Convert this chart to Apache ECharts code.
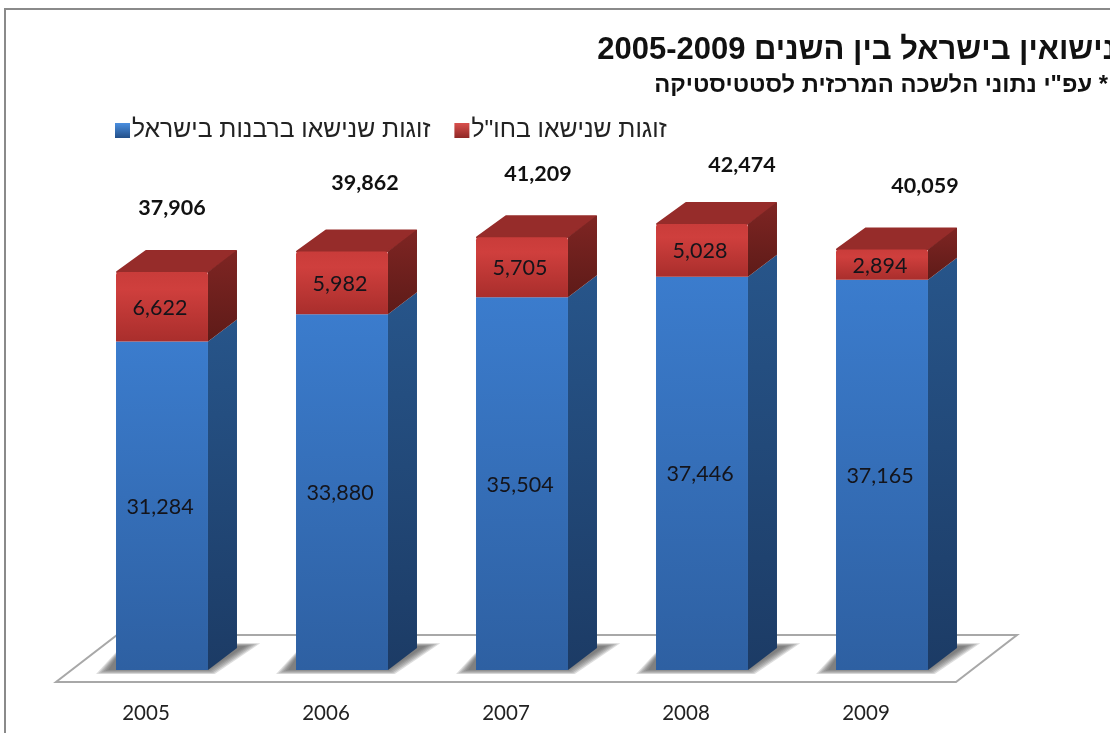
<!DOCTYPE html>
<html>
<head>
<meta charset="utf-8">
<title>נישואין בישראל</title>
<style>
  html, body { margin: 0; padding: 0; background: #fff; }
  #chart { width: 1110px; height: 733px; }
</style>
<script src="https://cdn.jsdelivr.net/npm/echarts@6/dist/echarts.min.js"></script>
</head>
<body>
<div id="chart" dir="rtl"></div>
<script>
const years = ["2005", "2006", "2007", "2008", "2009"];
const rabbinate = [31284, 33880, 35504, 37446, 37165];
const abroad = [6622, 5982, 5705, 5028, 2894];
const totals = [37906, 39862, 41209, 42474, 40059];

const rabbinateName = "זוגות שנישאו ברבנות בישראל";
const abroadName = 'זוגות שנישאו בחו"ל';

// the totals were placed by hand in the original, so each has its own nudge
const totalNudgeX = [10, 23, 16, 40, 43];
const totalNudgeY = [-64, -68, -63, -59, -63];

// 3d look: bars stand back from the axis line, floor goes further back
const floorDX = 61, floorDY = -47;
const barDX = 16, barDY = -12;
const sideDX = 29, sideDY = -22;
const barRatio = 0.511;

const fmt = (v) => v.toLocaleString("en-US");
const vert = (a, b) => new echarts.graphic.LinearGradient(0, 0, 0, 1, [
  { offset: 0, color: a }, { offset: 1, color: b },
]);

const renderFloor = (params, api) => {
  const g = params.coordSys;
  const b = g.y + g.height;
  return {
    type: "polygon",
    shape: { points: [
      [g.x, b], [g.x + g.width, b],
      [g.x + g.width + floorDX, b + floorDY], [g.x + floorDX, b + floorDY],
    ] },
    style: { fill: "#fff", stroke: "#a8a8a8", lineWidth: 2 },
  };
};

// soft shadow on the floor: stacked see-through polygons, each a bit bigger
const renderShadow = (params, api) => {
  const p = api.coord([api.value(0), 0]);
  const w = api.size([1, 0])[0] * barRatio;
  const x = p[0] + barDX - w / 2, y = p[1] + barDY;
  const layers = [0, 1, 2, 3, 4, 5].map((k) => {
    const e = k * 1.14;
    return {
      type: "polygon",
      shape: { points: [
        [x, y - 12 - e], [x - 8 - e * 2.1, y + e * 0.7], [x + w + e * 1.2, y + e * 0.7],
        [x + w + 38 + e * 2.5, y - 24 - e * 0.5], [x + w + 28, y - 24 - e * 0.5],
      ] },
      style: { fill: "rgba(85,85,85,0.2)" },
    };
  });
  return { type: "group", silent: true, children: layers };
};

const renderBar = (colors) => (params, api) => {
  const i = api.value(0);
  const lo = api.coord([i, api.value(1)]);
  const hi = api.coord([i, api.value(2)]);
  const w = api.size([1, 0])[0] * barRatio;
  const x = lo[0] + barDX - w / 2, r = x + w;
  const y0 = lo[1] + barDY, y1 = hi[1] + barDY;
  const kids = [
    {
      type: "polygon",
      shape: { points: [[r, y1], [r + sideDX, y1 + sideDY], [r + sideDX, y0 + sideDY], [r, y0]] },
      style: { fill: vert(colors.sideTop, colors.sideBottom) },
    },
    {
      type: "rect",
      shape: { x: x, y: y1, width: w, height: y0 - y1, r: colors.radius },
      style: { fill: colors.front },
    },
    {
      type: "text",
      x: x + w / 2 - 2, y: (y0 + y1) / 2 + 1,
      style: {
        text: fmt(api.value(2) - api.value(1)),
        align: "center", verticalAlign: "middle",
        font: '21.5px Lato, "Open Sans", sans-serif', fill: "#14141a",
      },
    },
  ];
  if (colors.topFace) {
    kids.unshift({
      type: "polygon",
      shape: { points: [[x + 1, y1], [r - 1, y1], [r + sideDX - 1, y1 + sideDY + 1], [x + sideDX + 1, y1 + sideDY + 1]] },
      style: { fill: colors.topFace, stroke: colors.topFace, lineWidth: 2, lineJoin: "round" },
    });
  }
  return { type: "group", children: kids };
};

const renderTotal = (params, api) => {
  const i = api.value(0);
  const p = api.coord([i, api.value(1)]);
  return {
    type: "text",
    x: p[0] + barDX + totalNudgeX[i],
    y: p[1] + barDY + totalNudgeY[i],
    style: {
      text: fmt(api.value(1)),
      align: "center", verticalAlign: "middle",
      font: 'bold 21.5px Lato, "Open Sans", sans-serif', fill: "#111",
    },
  };
};

const option = {
  animation: false,
  backgroundColor: "#fff",
  title: [
    {
      text: "נישואין בישראל בין השנים 2005-2009",
      right: -11, top: 30,
      textStyle: { fontFamily: "Liberation Sans", fontWeight: "bold", fontSize: 31, color: "#111" },
    },
    {
      text: '* עפ"י נתוני הלשכה המרכזית לסטטיסטיקה',
      right: -3, top: 68,
      textStyle: { fontFamily: "Liberation Sans", fontWeight: "bold", fontSize: 23.8, color: "#111" },
    },
  ],
  legend: {
    left: 110, top: 113,
    data: [rabbinateName, abroadName],
    itemWidth: 15, itemHeight: 15, itemGap: 24,
    icon: "rect",
    textStyle: { fontFamily: "Liberation Sans", fontSize: 24.7, color: "#222", padding: [0, 0, 0, -3] },
  },
  graphic: [
    {
      type: "polyline",
      shape: { points: [[5, 733], [5, 9], [1110, 9]] },
      style: { stroke: "#8a8a8a", lineWidth: 2, fill: "none" },
      silent: true,
    },
  ],
  grid: { left: 56, width: 900, top: 157, height: 525 },
  xAxis: {
    type: "category",
    data: years,
    axisLine: { show: false },
    axisTick: { show: false },
    axisLabel: { margin: 21, fontFamily: "Lato", fontSize: 20.5, color: "#222" },
  },
  yAxis: { type: "value", min: 0, max: 50000, show: false },
  series: [
    {
      type: "custom", silent: true, z: 1,
      renderItem: renderFloor, data: [[0]], encode: { x: 0 },
    },
    {
      type: "custom", silent: true, z: 2,
      renderItem: renderShadow, data: years.map((y, i) => [i]), encode: { x: 0 },
    },
    {
      name: rabbinateName, type: "custom", z: 3,
      itemStyle: { color: vert("#4a8fe0", "#234f88") },
      renderItem: renderBar({
        front: vert("#3b7ccd", "#2e60a2"),
        sideTop: "#27558a", sideBottom: "#1c3b65", radius: 0,
      }),
      data: rabbinate.map((v, i) => [i, 0, v]),
      encode: { x: 0, y: [1, 2] },
    },
    {
      name: abroadName, type: "custom", z: 4,
      itemStyle: { color: vert("#d9504d", "#8f2725") },
      renderItem: renderBar({
        front: new echarts.graphic.LinearGradient(0, 0, 0, 1, [
          { offset: 0, color: "#c93c3a" },
          { offset: 0.25, color: "#cf3f3d" },
          { offset: 1, color: "#a92e2c" },
        ]),
        sideTop: "#7f2523", sideBottom: "#5e1b18",
        topFace: "#962c2a", radius: [3, 3, 0, 0],
      }),
      data: abroad.map((v, i) => [i, rabbinate[i], rabbinate[i] + v]),
      encode: { x: 0, y: [1, 2] },
    },
    {
      type: "custom", silent: true, z: 5,
      renderItem: renderTotal,
      data: totals.map((v, i) => [i, v]),
      encode: { x: 0, y: 1 },
    },
  ],
};

const chart = echarts.init(document.getElementById("chart"));
chart.setOption(option);
</script>
</body>
</html>
